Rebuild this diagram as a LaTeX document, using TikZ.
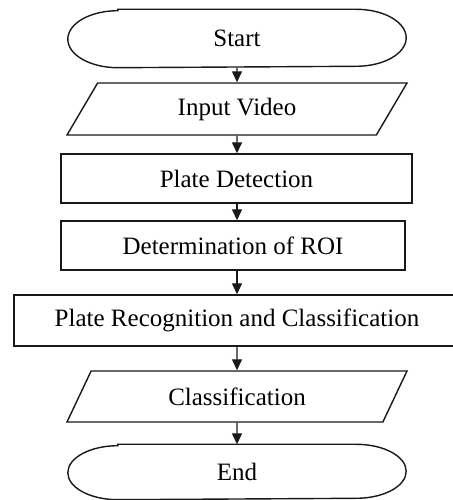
\documentclass[tikz,border=0pt]{standalone}
\usepackage{fontspec}
\setmainfont{Liberation Serif}
\usetikzlibrary{arrows.meta,shapes.geometric}

\begin{document}
\begin{tikzpicture}[x=1pt,y=1pt,
    every node/.style={font=\fontsize{25}{30}\selectfont, inner sep=0pt},
    term/.style={minimum width=337pt, minimum height=57pt},
    io/.style={draw=black!90, trapezium, trapezium left angle=36.5, trapezium right angle=143.5,
      trapezium stretches body, minimum width=340pt, minimum height=52pt},
    proc/.style={draw=black!90, rectangle, minimum height=49pt},
    edge/.style={draw=black!90},
    arr/.style={black!90, -{Triangle[width=10pt,length=11pt]}},
    line width=1.4pt]
    \useasboundingbox (0,0) rectangle (452,500);
    \node[term] (start) at (237,461.5) {Start};
    \node[io] (input) at (237,391) {Input Video};
    \node[proc, minimum width=351pt] (detect) at (236.5,321.5) {Plate Detection};
    \node[proc, minimum width=344pt] (roi) at (233,254.5) {Determination of ROI};
    \node[proc, minimum width=446pt, minimum height=51pt] (recog) at (237,179.5) {Plate Recognition and Classification};
    \node[io, minimum height=51pt] (classif) at (237,103.5) {Classification};
    \node[term, minimum height=54pt] (finish) at (237,28) {End};
    \draw[edge] ([xshift=50pt]start.north west) -- ([xshift=-50pt]start.north east)
      arc[start angle=90, end angle=-90, x radius=50pt, y radius=28.5pt]
      -- ([xshift=50pt]start.south west)
      arc[start angle=270, end angle=90, x radius=50pt, y radius=28.5pt] -- cycle;
    \draw[edge] ([xshift=50pt]finish.north west) -- ([xshift=-50pt]finish.north east)
      arc[start angle=90, end angle=-90, x radius=50pt, y radius=27pt]
      -- ([xshift=50pt]finish.south west)
      arc[start angle=270, end angle=90, x radius=50pt, y radius=27pt] -- cycle;
    \draw[arr] (start.south) -- (input.north);
    \draw[arr] (input.south) -- (detect.north -| input);
    \draw[arr] (detect.south -| input) -- (roi.north -| input);
    \draw[arr] (roi.south -| input) -- (recog.north);
    \draw[arr] (recog.south) -- (classif.north);
    \draw[arr] (classif.south) -- (finish.north);
\end{tikzpicture}
\end{document}
